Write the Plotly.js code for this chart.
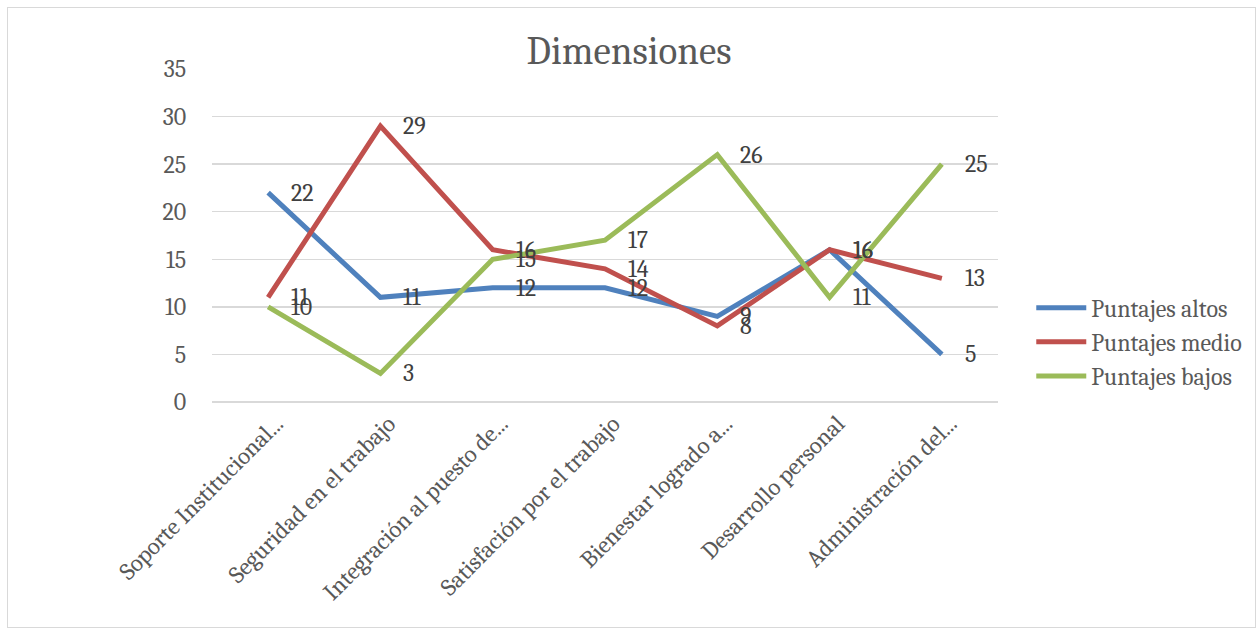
<!DOCTYPE html>
<html>
<head>
<meta charset="utf-8">
<script src="https://cdn.plot.ly/plotly-3.0.1.min.js"></script>
<style>
html,body{margin:0;padding:0;background:#fff;}
#frame{position:absolute;left:7px;top:7px;width:1249px;height:621px;border:1px solid #d9d9d9;box-sizing:border-box;}
#chart{position:absolute;left:0;top:0;width:1258px;height:630px;}
</style>
</head>
<body>
<div id="frame"></div>
<div id="chart"></div>
<script>
const categories = ["Soporte Institucional...", "Seguridad en el trabajo", "Integración al puesto de...", "Satisfación por el trabajo", "Bienestar logrado a...", "Desarrollo personal", "Administración del..."];
const seriesNames = ["Puntajes altos", "Puntajes medio", "Puntajes bajos"];
const altos = [22, 11, 12, 12, 9, 16, 5];
const medio = [11, 29, 16, 14, 8, 16, 13];
const bajos = [10, 3, 15, 17, 26, 11, 25];
const colors = ["#4f81bd", "#c0504d", "#9bbb59"];

const FONT = "Cambria, 'DejaVu Serif', 'Liberation Serif', serif";
const allSeries = [altos, medio, bajos];
const xs = categories.map((c, i) => i);

const traces = allSeries.map((vals, k) => ({
  type: 'scatter', mode: 'lines', x: xs, y: vals, name: seriesNames[k],
  line: {color: colors[k], width: 5}, hoverinfo: 'skip'
}));

const annotations = [];
allSeries.forEach((vals, k) => {
  vals.forEach((v, i) => {
    annotations.push({x: i, y: v, xref: 'x', yref: 'y', text: String(v), showarrow: false,
      xanchor: 'left', yanchor: 'middle', xshift: 21,
      font: {family: FONT, size: 24, color: '#404040'}});
  });
});

const layout = {
  width: 1258, height: 630,
  paper_bgcolor: 'rgba(0,0,0,0)', plot_bgcolor: 'rgba(0,0,0,0)',
  margin: {l: 212, r: 259, t: 69, b: 228},
  title: {text: 'Dimensiones', x: 0.5, xref: 'container', xanchor: 'center', y: 0.92, yref: 'container', yanchor: 'middle',
    font: {family: FONT, size: 39, color: '#595959'}},
  xaxis: {range: [-0.5, 6.5], tickmode: 'array', tickvals: xs, ticktext: categories, tickangle: -45,
    showgrid: false, zeroline: false, showline: false, ticks: '', ticklabelshift: 8, ticklabelstandoff: 2,
    tickfont: {family: FONT, size: 24, color: '#595959'}, fixedrange: true},
  yaxis: {range: [0, 35], dtick: 5, showgrid: true, gridcolor: '#d9d9d9', gridwidth: 1.5,
    zeroline: true, zerolinecolor: '#d9d9d9', zerolinewidth: 1.5, showline: false,
    ticks: 'outside', ticklen: 20, tickcolor: 'rgba(0,0,0,0)',
    tickfont: {family: FONT, size: 24, color: '#595959'}, fixedrange: true},
  legend: {x: 1.041, xref: 'paper', y: 0.18, yanchor: 'middle', xanchor: 'left',
    font: {family: FONT, size: 24, color: '#595959'}, tracegroupgap: 0, itemwidth: 50, bgcolor: 'rgba(0,0,0,0)'},
  showlegend: true,
  annotations: annotations
};

Plotly.newPlot('chart', traces, layout, {displayModeBar: false, staticPlot: true});
</script>
</body>
</html>
